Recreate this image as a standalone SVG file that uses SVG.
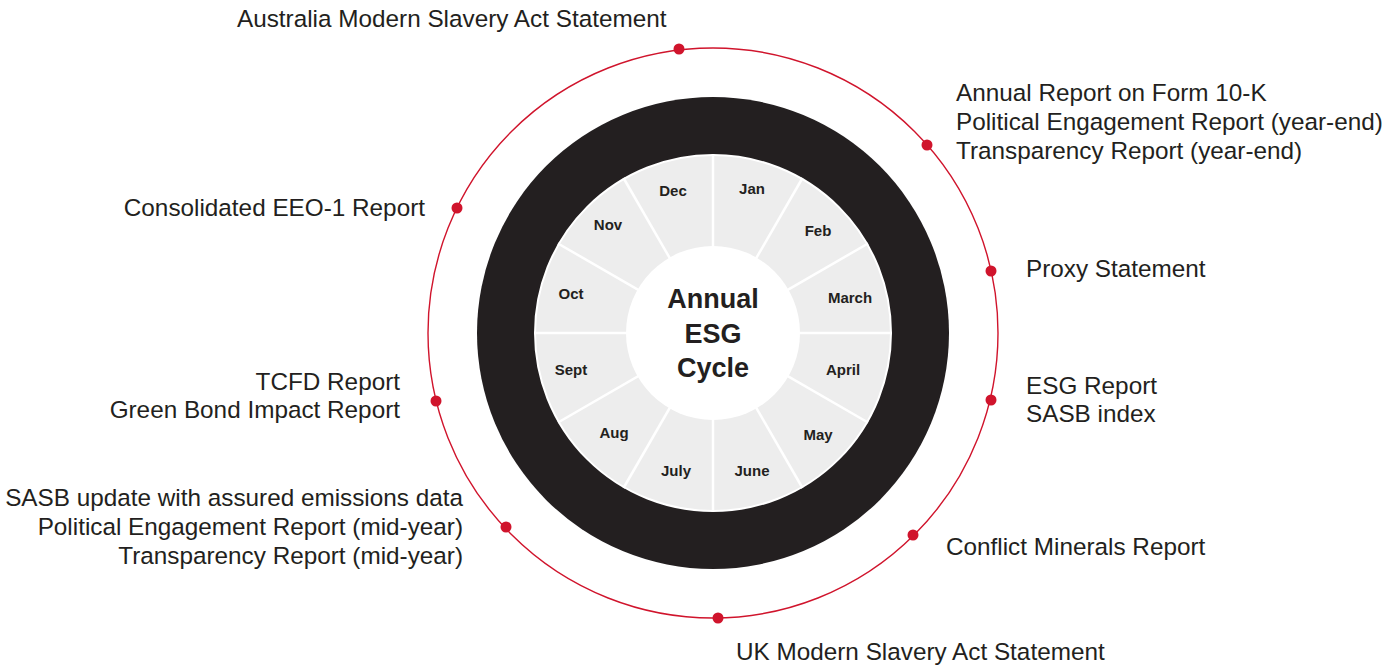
<svg xmlns="http://www.w3.org/2000/svg" width="1397" height="667" viewBox="0 0 1397 667">
<style>
.lbl{font-family:"Liberation Sans",Arial,sans-serif;font-size:24.3px;fill:#231f20}
.r{text-anchor:end}
.mon{font-family:"Liberation Sans",Arial,sans-serif;font-size:15px;font-weight:bold;fill:#231f20;text-anchor:middle}
.ctr{font-family:"Liberation Sans",Arial,sans-serif;font-size:27px;font-weight:bold;fill:#231f20;text-anchor:middle}
.dot{fill:#d0142c}
</style>
<rect width="1397" height="667" fill="#ffffff"/>
<g id="wheel">
  <circle cx="713" cy="333" r="285" fill="none" stroke="#d0142c" stroke-width="1.4"/>
  <circle cx="713" cy="333" r="236" fill="#231f20"/>
  <circle cx="713" cy="333" r="178" fill="#ededed" stroke="#ffffff" stroke-width="2"/>
  <g stroke="#ffffff" stroke-width="2.5">
    <line x1="534" y1="333" x2="892" y2="333"/>
    <line x1="558" y1="243.5" x2="868" y2="422.5"/>
    <line x1="623.5" y1="178" x2="802.5" y2="488"/>
    <line x1="713" y1="154" x2="713" y2="512"/>
    <line x1="802.5" y1="178" x2="623.5" y2="488"/>
    <line x1="868" y1="243.5" x2="558" y2="422.5"/>
  </g>
  <circle cx="713" cy="333" r="87" fill="#ffffff"/>
  <text class="ctr" x="713" y="308">Annual</text>
  <text class="ctr" x="713" y="343">ESG</text>
  <text class="ctr" x="713" y="377">Cycle</text>
</g>
<g id="months">
  <text class="mon" x="673" y="196">Dec</text>
  <text class="mon" x="752" y="194">Jan</text>
  <text class="mon" x="818" y="236">Feb</text>
  <text class="mon" x="850" y="303">March</text>
  <text class="mon" x="843" y="375">April</text>
  <text class="mon" x="818" y="440">May</text>
  <text class="mon" x="752" y="476">June</text>
  <text class="mon" x="676" y="476">July</text>
  <text class="mon" x="614" y="438">Aug</text>
  <text class="mon" x="571" y="375">Sept</text>
  <text class="mon" x="571" y="299">Oct</text>
  <text class="mon" x="608" y="230">Nov</text>
</g>
<g id="connectors">
  <circle class="dot" cx="679" cy="49" r="5.5"/>
  <circle class="dot" cx="927" cy="145" r="5.5"/>
  <circle class="dot" cx="991" cy="271" r="5.5"/>
  <circle class="dot" cx="991" cy="400" r="5.5"/>
  <circle class="dot" cx="913" cy="535" r="5.5"/>
  <circle class="dot" cx="718" cy="618" r="5.5"/>
  <circle class="dot" cx="506" cy="527" r="5.5"/>
  <circle class="dot" cx="436" cy="401" r="5.5"/>
  <circle class="dot" cx="457" cy="208" r="5.5"/>
</g>
<g id="n-australia"><text class="lbl" x="237" y="27">Australia Modern Slavery Act Statement</text></g>
<g id="n-10k">
  <text class="lbl" x="956" y="101">Annual Report on Form 10-K</text>
  <text class="lbl" x="956" y="130">Political Engagement Report (year-end)</text>
  <text class="lbl" x="956" y="159">Transparency Report (year-end)</text>
</g>
<g id="n-proxy"><text class="lbl" x="1026" y="277">Proxy Statement</text></g>
<g id="n-esg">
  <text class="lbl" x="1026" y="394">ESG Report</text>
  <text class="lbl" x="1026" y="422">SASB index</text>
</g>
<g id="n-conflict"><text class="lbl" x="946" y="555">Conflict Minerals Report</text></g>
<g id="n-uk"><text class="lbl" x="736" y="660">UK Modern Slavery Act Statement</text></g>
<g id="n-sasb">
  <text class="lbl r" x="463" y="506">SASB update with assured emissions data</text>
  <text class="lbl r" x="463" y="535">Political Engagement Report (mid-year)</text>
  <text class="lbl r" x="463" y="564">Transparency Report (mid-year)</text>
</g>
<g id="n-tcfd">
  <text class="lbl r" x="400" y="390">TCFD Report</text>
  <text class="lbl r" x="400" y="418">Green Bond Impact Report</text>
</g>
<g id="n-eeo"><text class="lbl r" x="425" y="216">Consolidated EEO-1 Report</text></g>
</svg>
